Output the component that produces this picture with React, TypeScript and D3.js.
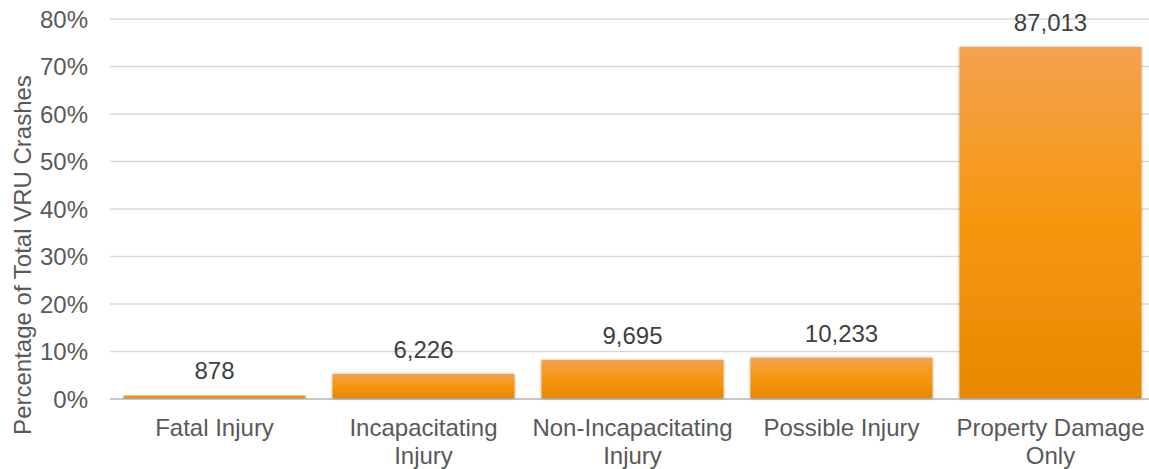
import React from "react";
import * as d3 from "d3";

const categories: string[][] = [
  ["Fatal Injury"],
  ["Incapacitating", "Injury"],
  ["Non-Incapacitating", "Injury"],
  ["Possible Injury"],
  ["Property Damage", "Only"],
];
const percentValues: number[] = [0.75, 5.3, 8.25, 8.7, 74.1];
const countLabels: string[] = ["878", "6,226", "9,695", "10,233", "87,013"];
const yTicks: number[] = [0, 10, 20, 30, 40, 50, 60, 70, 80];
const yTitle = "Percentage of Total VRU Crashes";

const W = 1149;
const H = 469;
const M = { left: 110, top: 19, bottom: 70 };
const FONT = "'Liberation Sans', Arial, sans-serif";

export default function App() {
  const x = d3
    .scaleBand<number>()
    .domain(d3.range(categories.length))
    .range([M.left, 1155])
    .paddingInner(0.129)
    .paddingOuter(0.0646);
  const y = d3.scaleLinear().domain([0, 80]).range([H - M.bottom, M.top]);

  return (
    <svg
      width={W}
      height={H}
      style={{ position: "absolute", left: 0, top: 0, background: "#fff" }}
      fontFamily={FONT}
    >
      <defs>
        <linearGradient id="barGrad" x1="0" y1="0" x2="0" y2="1">
          <stop offset="0" stopColor="#F3A24E" />
          <stop offset="0.5" stopColor="#F7960F" />
          <stop offset="1" stopColor="#E88800" />
        </linearGradient>
        <filter id="shadow" x="-10%" y="-10%" width="120%" height="120%">
          <feDropShadow dx="0" dy="0.5" stdDeviation="1.8" floodColor="#000" floodOpacity="0.35" />
        </filter>
      </defs>
      {yTicks.map((t) => (
        <g key={t}>
          <line
            x1={M.left}
            x2={W}
            y1={y(t)}
            y2={y(t)}
            stroke={t === 0 ? "#c8c8c8" : "#d9d9d9"}
            strokeWidth={t === 0 ? 2 : 1.5}
          />
          <text
            x={88}
            y={y(t)}
            dy="0.36em"
            textAnchor="end"
            fontSize={24}
            fill="#595959"
          >
            {t + "%"}
          </text>
        </g>
      ))}
      <text
        transform={`translate(31,255) rotate(-90)`}
        textAnchor="middle"
        fontSize={24}
        fill="#595959"
      >
        {yTitle}
      </text>
      {percentValues.map((v, i) => {
        const bx = x(i)!;
        const bw = x.bandwidth();
        const cx = bx + bw / 2;
        return (
          <g key={i}>
            <rect
              x={bx}
              y={y(v)}
              width={bw}
              height={y(0) - y(v) - 1}
              fill="url(#barGrad)"
              filter="url(#shadow)"
            />
            <text
              x={cx}
              y={y(v) - 16}
              textAnchor="middle"
              fontSize={24}
              fill="#404040"
            >
              {countLabels[i]}
            </text>
            <text x={cx} y={436} textAnchor="middle" fontSize={24} fill="#595959">
              {categories[i].map((line, j) => (
                <tspan key={j} x={cx} dy={j === 0 ? 0 : 28}>
                  {line}
                </tspan>
              ))}
            </text>
          </g>
        );
      })}
    </svg>
  );
}
